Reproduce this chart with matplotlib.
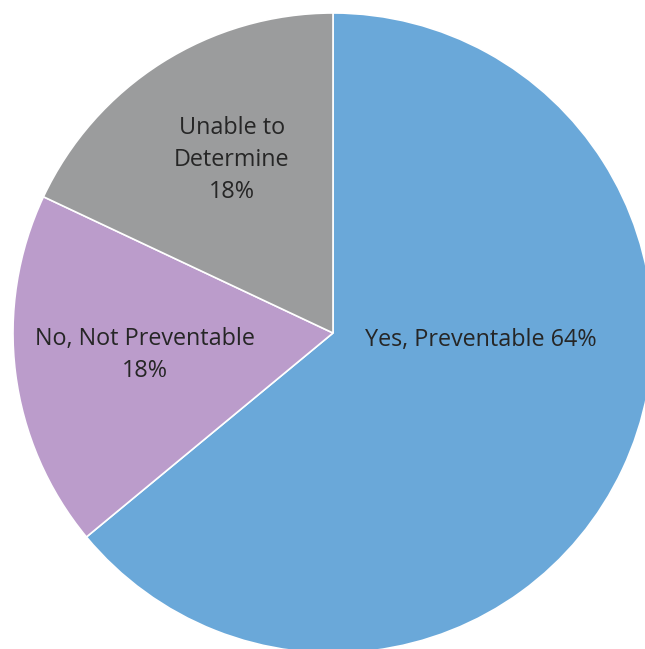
import matplotlib
matplotlib.use("Agg")
import matplotlib.pyplot as plt

labels = ["Yes, Preventable 64%", "No, Not Preventable\n18%", "Unable to\nDetermine\n18%"]
values = [64, 18, 18]
colors = ["#6AA8D9", "#BB9CCB", "#9B9C9D"]

W, H = 645, 649
fig = plt.figure(figsize=(W / 100, H / 100), dpi=100)
ax = fig.add_axes([0, 0, 1, 1])

cx, cy, r = 333, H - 333, 320
ax.pie(values, colors=colors, startangle=90, counterclock=False,
       center=(cx, cy), radius=r,
       wedgeprops=dict(edgecolor="white", linewidth=1.2))

# label positions in pixel coords (from top-left)
label_pos = [(481, 340), (145, 355), (232, 160)]
for txt, (x, y) in zip(labels, label_pos):
    ax.text(x, H - y, txt, ha="center", va="center", fontsize=16.8,
            family="Open Sans", color="#262626", linespacing=1.43)

ax.set_xlim(0, W)
ax.set_ylim(0, H)
ax.set_aspect("equal")
ax.axis("off")
fig.savefig("out.png", dpi=100, facecolor="white")
